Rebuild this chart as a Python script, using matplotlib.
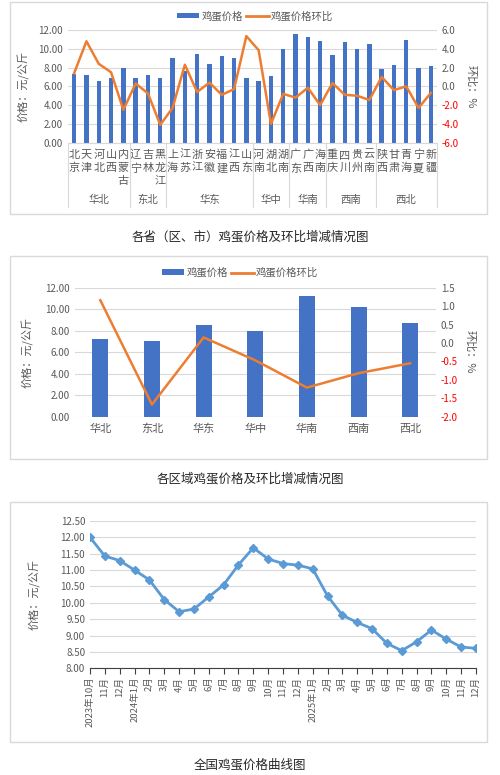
import numpy as np
import matplotlib
matplotlib.use("Agg")
import matplotlib.pyplot as plt
from matplotlib.patches import Rectangle, Patch
from matplotlib.lines import Line2D
from matplotlib.transforms import blended_transform_factory

plt.rcParams["font.family"] = ["Noto Sans CJK SC", "DejaVu Sans"]
plt.rcParams["axes.unicode_minus"] = False

# ---- data: provinces
provinces = ["北京", "天津", "河北", "山西", "内蒙古", "辽宁", "吉林", "黑龙江",
             "上海", "江苏", "浙江", "安徽", "福建", "江西", "山东",
             "河南", "湖北", "湖南", "广东", "广西", "海南",
             "重庆", "四川", "贵州", "云南", "陕西", "甘肃", "青海", "宁夏", "新疆"]
province_price = [7.35, 7.2, 6.6, 6.85, 8.0, 6.9, 7.2, 6.9,
                  9.0, 7.6, 9.45, 8.35, 9.2, 9.0, 6.9,
                  6.6, 7.1, 9.95, 11.6, 11.3, 10.8,
                  9.3, 10.7, 9.95, 10.5, 7.8, 8.3, 10.9, 8.0, 8.2]
province_mom = [1.4, 4.8, 2.4, 1.5, -2.5, 0.3, -0.75, -4.1,
                -2.3, 2.3, -0.6, 0.4, -0.9, -0.3, 5.35,
                3.85, -4.0, -0.8, -1.2, -0.15, -2.0,
                0.35, -0.9, -1.0, -1.45, 1.0, -0.4, 0.0, -2.3, -0.7]
group_names = ["华北", "东北", "华东", "华中", "华南", "西南", "西北"]
group_sizes = [5, 3, 7, 3, 3, 4, 5]

# ---- data: regions
regions = ["华北", "东北", "华东", "华中", "华南", "西南", "西北"]
region_price = [7.2, 7.07, 8.5, 7.95, 11.2, 10.17, 8.68]
region_mom = [1.16, -1.67, 0.15, -0.47, -1.21, -0.82, -0.55]

# ---- data: national monthly
month_labels = ["2023年10月", "11月", "12月", "2024年1月", "2月", "3月", "4月",
                "5月", "6月", "7月", "8月", "9月", "10月", "11月", "12月",
                "2025年1月", "2月", "3月", "4月", "5月", "6月", "7月", "8月",
                "9月", "10月", "11月", "12月"]
national_price = [12.0, 11.43, 11.29, 11.0, 10.7, 10.1, 9.73, 9.81, 10.18,
                  10.55, 11.16, 11.68, 11.34, 11.2, 11.15, 11.04, 10.21,
                  9.62, 9.4, 9.21, 8.76, 8.54, 8.81, 9.17, 8.89, 8.65, 8.61]

W, H = 500, 775
BAR = "#4472C4"
ORANGE = "#ED7D31"
LINE3 = "#5B9BD5"
GRID = "#D9D9D9"
TXT = "#595959"
RED = "#FF0000"

fig = plt.figure(figsize=(W / 100, H / 100), dpi=100)


def px_axes(left, top, right, bottom):
    return fig.add_axes([left / W, 1 - bottom / H, (right - left) / W, (bottom - top) / H])


def box(left, top, right, bottom):
    fig.add_artist(Rectangle((left / W, 1 - bottom / H), (right - left) / W,
                             (bottom - top) / H, transform=fig.transFigure,
                             facecolor="white", edgecolor=GRID, lw=1, zorder=0))


def style_axes(ax):
    for s in ax.spines.values():
        s.set_visible(False)
    ax.tick_params(length=0, colors=TXT, labelsize=7)
    ax.grid(axis="y", color=GRID, lw=0.8)
    ax.set_axisbelow(True)


def color_right(ax):
    for lab in ax.get_yticklabels():
        if lab.get_text().startswith("-"):
            lab.set_color(RED)


def legend(cx, cy):
    handles = [Patch(facecolor=BAR, edgecolor="none"),
               Line2D([], [], color=ORANGE, lw=2)]
    fig.legend(handles, ["鸡蛋价格", "鸡蛋价格环比"], loc="center", ncol=2,
               bbox_to_anchor=(cx / W, 1 - cy / H), frameon=False, fontsize=7.5,
               handlelength=2.2, handleheight=0.5, columnspacing=0.3,
               handletextpad=0.2, labelcolor=TXT)


# ================= panel 1 =================
box(10, 2, 487, 214)
ax1 = px_axes(68, 30, 437, 142.7)
style_axes(ax1)
x1 = np.arange(len(provinces))
ax1.bar(x1, province_price, width=0.35, color=BAR, zorder=2)
ax1.set_xlim(-0.5, len(provinces) - 0.5)
ax1.set_ylim(0, 12)
ax1.set_yticks(np.arange(0, 12.1, 2))
ax1.set_yticklabels([f"{v:.2f}" for v in np.arange(0, 12.1, 2)])
ax1.set_xticks(x1)
ax1.set_xticklabels(["\n".join(p) for p in provinces], fontsize=8,
                    linespacing=1.4, va="top", color=TXT)
ax1.tick_params(axis="x", pad=5)
ax1.spines["bottom"].set_visible(True)
ax1.spines["bottom"].set_color(GRID)
ax1.set_ylabel("价格：元/公斤", fontsize=8, color=TXT, labelpad=6)

tr = blended_transform_factory(ax1.transData, ax1.transAxes)
bounds = np.concatenate([[0], np.cumsum(group_sizes)]) - 0.5
for b in bounds:
    ax1.plot([b, b], [0, -0.57], transform=tr, color=GRID, lw=0.8, clip_on=False)
for i, g in enumerate(group_names):
    ax1.text((bounds[i] + bounds[i + 1]) / 2, -0.51, g, transform=tr,
             ha="center", va="center", fontsize=7.5, color=TXT)

ax1r = ax1.twinx()
for s in ax1r.spines.values():
    s.set_visible(False)
ax1r.plot(x1, province_mom, color=ORANGE, lw=1.8, zorder=3)
ax1r.set_ylim(-6, 6)
ax1r.set_yticks(np.arange(-6, 6.1, 2))
ax1r.set_yticklabels([f"{v:.1f}" for v in np.arange(-6, 6.1, 2)])
ax1r.tick_params(length=0, colors=TXT, labelsize=7)
color_right(ax1r)
ax1r.set_ylabel("环比：%", fontsize=8, color=TXT, rotation=270, labelpad=12)
legend(255, 16)
fig.text(0.5, 1 - 237 / H, "各省（区、市）鸡蛋价格及环比增减情况图",
         ha="center", va="center", fontsize=9, color="#262626")

# ================= panel 2 =================
box(10, 256, 487, 459)
ax2 = px_axes(74.5, 287.7, 436, 416.7)
style_axes(ax2)
x2 = np.arange(len(regions))
ax2.bar(x2, region_price, width=0.31, color=BAR, zorder=2)
ax2.set_xlim(-0.5, len(regions) - 0.5)
ax2.set_ylim(0, 12)
ax2.set_yticks(np.arange(0, 12.1, 2))
ax2.set_yticklabels([f"{v:.2f}" for v in np.arange(0, 12.1, 2)])
ax2.set_xticks(x2)
ax2.set_xticklabels(regions, fontsize=8, color=TXT)
ax2.tick_params(axis="x", pad=5)
ax2.set_ylabel("价格：元/公斤", fontsize=8, color=TXT, labelpad=8)

ax2r = ax2.twinx()
for s in ax2r.spines.values():
    s.set_visible(False)
ax2r.plot(x2, region_mom, color=ORANGE, lw=1.8, zorder=3)
ax2r.set_ylim(-2, 1.5)
ax2r.set_yticks(np.arange(-2, 1.51, 0.5))
ax2r.set_yticklabels([f"{v:.1f}" for v in np.arange(-2, 1.51, 0.5)])
ax2r.tick_params(length=0, colors=TXT, labelsize=7)
color_right(ax2r)
ax2r.set_ylabel("环比：%", fontsize=8, color=TXT, rotation=270, labelpad=12)
legend(240, 272.7)
fig.text(0.5, 1 - 479 / H, "各区域鸡蛋价格及环比增减情况图",
         ha="center", va="center", fontsize=9, color="#262626")

# ================= panel 3 =================
box(10, 502, 487, 742)
ax3 = px_axes(90, 521, 476, 668.3)
style_axes(ax3)
x3 = np.arange(len(month_labels))
ax3.plot(x3, national_price, color=LINE3, lw=2, marker="D", markersize=4,
         zorder=3)
ax3.set_xlim(0, len(month_labels) - 1)
ax3.set_ylim(8, 12.5)
ax3.set_yticks(np.arange(8, 12.51, 0.5))
ax3.set_yticklabels([f"{v:.2f}" for v in np.arange(8, 12.51, 0.5)])
ax3.set_xticks(x3)
ax3.set_xticklabels(month_labels, rotation=90, fontsize=6.8, color=TXT)
ax3.spines["bottom"].set_visible(True)
ax3.spines["bottom"].set_color("#404040")
ax3.tick_params(axis="x", length=4, direction="out", color="#404040", pad=2)
ax3.set_ylabel("价格：元/公斤", fontsize=8, color=TXT, labelpad=14)
fig.text(0.5, 1 - 765 / H, "全国鸡蛋价格曲线图",
         ha="center", va="center", fontsize=9, color="#262626")

fig.savefig("out.png", dpi=100)
